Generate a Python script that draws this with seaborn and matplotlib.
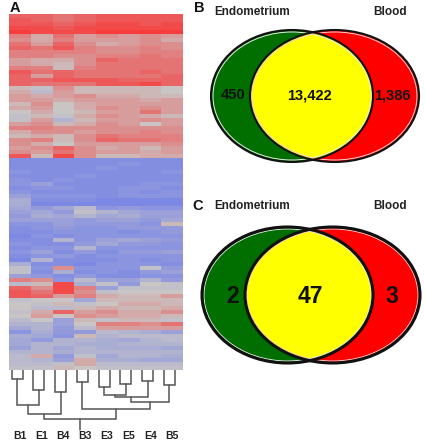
#!/usr/bin/env python3
"""Heatmap with dendrogram plus two Venn panels."""
import matplotlib
matplotlib.use('Agg')
import matplotlib.pyplot as plt
from matplotlib.colors import LinearSegmentedColormap
from matplotlib.patches import Ellipse
import pandas as pd
import seaborn as sns

samples = ['B1', 'E1', 'B4', 'B3', 'E3', 'E5', 'E4', 'B5']

# upper block of the heatmap, read row by row
up_rows = [
    [7, 7, 6, 7, 8, 8, 8, 8], [8, 7, 6, 7, 8, 8, 8, 8], [8, 8, 7, 8, 9, 9, 8, 9],
    [9, 9, 8, 9, 9, 9, 9, 9], [10, 9, 9, 9, 10, 10, 10, 10], [5, 2, 6, 3, 4, 3, 4, 3],
    [4, 2, 5, 3, 3, 3, 4, 2], [6, 3, 7, 4, 2, 3, 4, 4], [7, 6, 8, 5, 4, 4, 5, 4],
    [5, 5, 5, 5, 4, 4, 5, 5], [5, 5, 4, 4, 5, 5, 6, 5], [3, 2, 2, 4, 7, 6, 6, 6],
    [3, 2, 1, 4, 6, 6, 6, 6], [5, 5, 1, 5, 6, 6, 6, 6], [8, 6, 7, 6, 6, 6, 7, 6],
    [7, 3, 7, 6, 6, 6, 6, 7], [7, 7, 8, 8, 8, 7, 7, 7], [7, 6, 6, 6, 8, 8, 9, 7],
    [1, -1, 4, 1, 1, 1, 1, 0], [2, -2, 3, 1, 1, 1, 1, 0], [3, 2, 3, 4, 2, 2, 1, 1],
    [3, 3, 2, 3, 3, 3, 2, 3], [1, 4, 0, 2, 3, 3, 3, 3], [2, 3, 0, 2, 4, 3, 4, 3],
    [0, 2, 0, 1, 3, 3, 6, 3], [-1, 1, -1, 2, 4, 3, 2, 1], [-1, 3, -3, 1, 3, 3, 4, 3],
    [3, 4, 1, 2, 4, 3, 0, 3], [5, 5, 4, 4, 4, 4, 4, 4], [2, 4, 4, 3, 4, 4, 5, 4],
    [1, 2, 1, 4, 6, 5, 5, 5], [4, 5, 1, 4, 7, 6, 6, 5], [4, 2, 0, 3, 3, 3, 3, 4],
    [3, 4, 7, 4, 2, 3, 1, 3], [4, 3, 6, 4, 3, 3, 2, 3], [8, 1, 9, 4, 1, 1, 2, 2],
]

# lower block of the heatmap
down_rows = [
    [-9, -9, -9, -9, -9, -9, -9, -9], [-9, -9, -9, -9, -9, -8, -9, -9],
    [-9, -9, -9, -9, -8, -9, -9, -9], [-8, -9, -9, -9, -9, -9, -9, -8],
    [-9, -9, -9, -8, -9, -9, -9, -9], [-8, -9, -8, -9, -9, -9, -9, -9],
    [-8, -6, -9, -9, -9, -9, -8, -8], [-9, -8, -8, -9, -9, -8, -8, -9],
    [-8, -9, -9, -9, -9, -8, -9, -8], [-6, -8, -8, -8, -9, -8, -8, -8],
    [-4, -9, -9, -9, -10, -10, -10, -10], [-4, -10, -10, -10, -10, -10, -10, -10],
    [-5, -7, -5, -2, -8, -7, -8, -8], [-6, -5, -7, -1, -3, -5, -6, -6],
    [-7, -4, -5, -3, -5, -4, -6, -6], [-6, -6, -6, -7, -6, -6, -7, -5],
    [-8, -8, -6, -7, -7, -7, -8, 1], [-9, -8, -7, -8, -8, -7, -7, -7],
    [-9, -9, -8, -8, -8, -9, -8, -7], [-10, -8, -9, -8, -8, -8, -8, -8],
    [-9, -9, -3, -8, -6, -5, -6, -7], [-8, -9, -9, -7, -5, -7, -7, -8],
    [-9, -8, -8, -3, -8, -8, -8, -8], [-8, -6, -9, -7, -9, -7, -7, -6],
    [-9, -8, -7, -9, -8, -8, -8, -8], [-10, -3, -9, -9, -9, -8, -9, -8],
    [-4, -9, -9, -10, -8, -8, -8, -9], [-1, -8, 4, -8, -8, -8, -1, -7],
    [-1, -9, -4, -9, -8, -9, -7, -6], [-6, -7, -9, -7, -9, -9, -8, -8],
    [5, 4, -8, -2, -6, -6, -3, -7], [-2, 1, 9, -4, -1, -7, 0, -1],
    [7, 4, 9, 5, -6, -1, -1, -1], [8, 6, 9, 4, -1, 0, 0, 0],
    [8, 7, 3, 5, 2, 1, 1, 3], [-1, 0, 0, -5, 1, 1, 1, 1],
    [0, -1, 1, -1, 0, 2, 2, 1], [0, -2, -2, 1, 2, 1, 1, 2],
    [-1, 2, 7, 3, 4, 2, 2, 4], [0, 3, 0, 4, 3, 2, 2, 1],
    [-2, 0, -6, 1, -1, 1, 1, -1], [-3, -3, -6, 0, 5, 5, 4, 6],
    [-5, -3, -7, -2, 3, 3, 3, 3], [-8, -4, -7, -7, -2, -3, -4, -6],
    [-4, -5, -8, 1, -3, -2, -2, -2], [-5, -7, -3, -3, -4, -5, -3, -2],
    [-5, -3, -3, -4, -4, -3, -3, -3], [-6, -3, -5, -3, -4, -4, -4, -5],
    [-3, -3, -4, -3, -3, -3, -3, -3], [-2, 2, -7, -1, -5, -3, -3, -4],
    [-2, -3, -6, 2, -4, -4, -5, -5], [-2, -2, -1, 2, -2, -2, -2, -2],
    [-1, -1, 1, 0, -1, -1, -1, -1],
]

# dendrogram: 16 leaves (two per column), merges as left node, right node, height
merge_left = [0, 2, 4, 6, 8, 10, 12, 14, 16, 24, 20, 26, 27, 19, 25]
merge_right = [1, 3, 5, 7, 9, 11, 13, 15, 17, 18, 21, 22, 23, 28, 29]
merge_height = [9, 20, 22, 12, 17, 14, 11, 15, 35, 44, 25, 27, 32, 39, 49]
root_stem = 60

venn_labels = ['Endometrium', 'Blood']
venn_b_counts = ['450', '13,422', '1,386']
venn_c_counts = ['2', '47', '3']

GREEN = '#006f00'
RED = '#ff0000'
YELLOW = '#ffff00'
FONT = ['Liberation Sans', 'DejaVu Sans']
W, H = 425, 444

sns.set_theme(style='white')
plt.rcParams['font.family'] = FONT

fig = plt.figure(figsize=(W / 100, H / 100), dpi=100)


def px_axes(x0, y0, x1, y1):
    return fig.add_axes([x0 / W, 1 - y1 / H, (x1 - x0) / W, (y1 - y0) / H])


# heatmap
ax = px_axes(9, 14, 183, 370)
cmap = LinearSegmentedColormap.from_list('rb', ['#7c88e4', '#c9c6c6', '#f63c3c'])
df = pd.DataFrame(up_rows + down_rows, columns=samples)
sns.heatmap(df, cmap=cmap, vmin=-10, vmax=10, cbar=False, xticklabels=False,
            yticklabels=False, ax=ax)

# dendrogram, y counts pixels down from the heatmap edge
dn = px_axes(9, 370, 183, 444)
dn.set_xlim(0, len(samples))
dn.set_ylim(74, 0)
dn.axis('off')
nodes = [((i + 0.25) / 2, 0) for i in range(16)]
for left, right, height in zip(merge_left, merge_right, merge_height):
    xl, yl = nodes[left]
    xr, yr = nodes[right]
    dn.plot([xl, xl, xr, xr], [yl, height, height, yr], color='#555555', lw=1.1,
            solid_joinstyle='miter')
    nodes.append(((xl + xr) / 2, height))
xr, yr = nodes[-1]
dn.plot([xr, xr], [yr, root_stem], color='#555555', lw=1.1)
for i, s in enumerate(samples):
    dn.text(i + 0.5, 66, s, ha='center', va='center', fontsize=7.5, fontweight='bold',
            color='#222222')

# Venn panels and texts share one pixel overlay
ov = px_axes(0, 0, W, H)
ov.set_xlim(0, W)
ov.set_ylim(H, 0)
ov.axis('off')
ov.patch.set_alpha(0)


def venn(left, right, lw):
    # left / right are (x0, x1, y0, y1) in pixels
    def ell(box, **kw):
        return Ellipse(((box[0] + box[1]) / 2, (box[2] + box[3]) / 2), box[1] - box[0],
                       box[3] - box[2], **kw)
    ov.add_patch(ell(left, fc=GREEN, ec='none'))
    ov.add_patch(ell(right, fc=RED, ec='none'))
    both = ell(right, fc=YELLOW, ec='none')
    ov.add_patch(both)
    both.set_clip_path(ell(left, transform=ov.transData))
    inset_l = (left[0] + 2, left[1] - 2, left[2] + 2, left[3] - 2)
    inset_r = (right[0] + 2, right[1] - 2, right[2] + 2, right[3] - 2)
    white_l = ell(inset_l, fc='none', ec='#e8e8e8', lw=0.7)
    white_r = ell(inset_r, fc='none', ec='#f4d0d0', lw=0.7)
    ov.add_patch(white_l)
    ov.add_patch(white_r)
    white_l.set_clip_path(ell(right, transform=ov.transData))
    white_l.set_clip_on(False)
    white_r.set_clip_on(False)
    ov.add_patch(ell(left, fc='none', ec='#111111', lw=lw))
    ov.add_patch(ell(right, fc='none', ec='#111111', lw=lw))


venn((211, 373, 30, 162), (250, 419, 30, 162), 1.5)
venn((202, 373, 227, 363), (245, 420, 227, 363), 2.2)

for y, counts, size in [(95, venn_b_counts, 10.5), (296, venn_c_counts, 16.5)]:
    for x, c in zip([233, 310, 392], counts):
        ov.text(x, y, c, ha='center', va='center', fontsize=size, fontweight='bold',
                color='#111111')
for y in [12, 206]:
    for x, lab in zip([252, 390], venn_labels):
        ov.text(x, y, lab, ha='center', va='center', fontsize=8.5, fontweight='bold',
                color='#222222')
for x, y, letter in [(15, 8, 'A'), (199, 8, 'B'), (198, 206, 'C')]:
    ov.text(x, y, letter, ha='center', va='center', fontsize=10.5, fontweight='bold',
            color='#111111')

fig.savefig('out.png', dpi=100)
plt.close(fig)
